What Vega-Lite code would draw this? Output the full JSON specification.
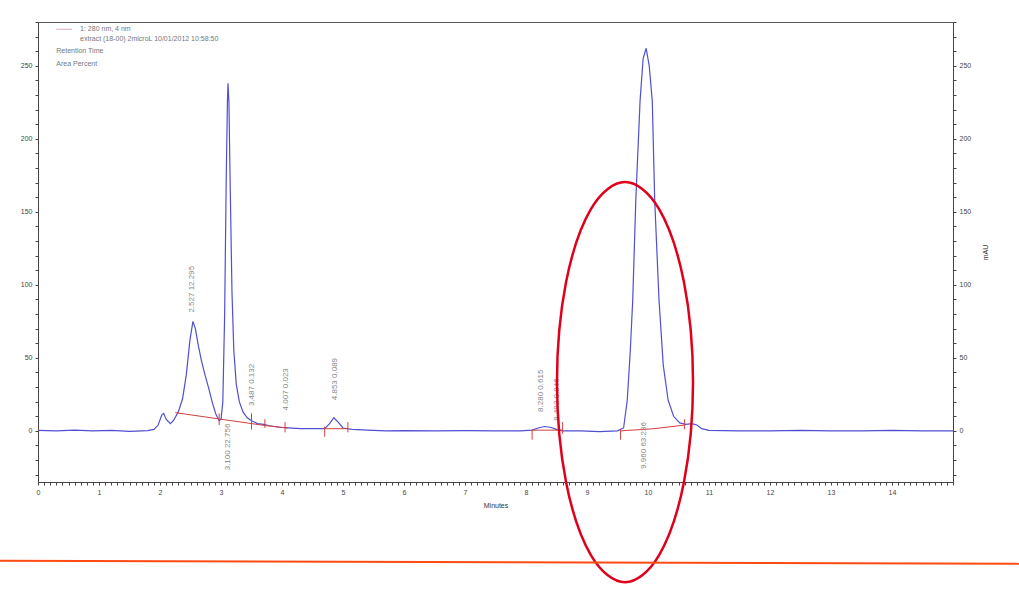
{
  "$schema": "https://vega.github.io/schema/vega-lite/v6.json",
  "width": 915,
  "height": 460,
  "autosize": {"type": "none"},
  "padding": {"left": 38, "top": 22, "right": 66, "bottom": 107},
  "background": "white",
  "config": {
    "view": {"stroke": "#555", "strokeWidth": 1},
    "font": "Liberation Sans",
    "axis": {"domainColor": "#444", "tickColor": "#444", "labelColor": "#444", "labelFontSize": 7, "titleFontSize": 7, "titleFontWeight": "normal", "titleColor": "#333", "grid": false}
  },
  "datasets": {
    "trace": [
      {"t": 0, "mAU": 0.3}, {"t": 0.3, "mAU": 0}, {"t": 0.6, "mAU": 0.5}, {"t": 0.9, "mAU": 0}, {"t": 1.2, "mAU": 0.3}, {"t": 1.5, "mAU": -0.3}, {"t": 1.8, "mAU": 0.2}, {"t": 1.9, "mAU": 1}, {"t": 1.97, "mAU": 4}, {"t": 2.03, "mAU": 11}, {"t": 2.06, "mAU": 12}, {"t": 2.1, "mAU": 8}, {"t": 2.17, "mAU": 5}, {"t": 2.22, "mAU": 7}, {"t": 2.3, "mAU": 13}, {"t": 2.37, "mAU": 22}, {"t": 2.43, "mAU": 38}, {"t": 2.49, "mAU": 62}, {"t": 2.54, "mAU": 75}, {"t": 2.58, "mAU": 70}, {"t": 2.63, "mAU": 58}, {"t": 2.68, "mAU": 48}, {"t": 2.74, "mAU": 38}, {"t": 2.8, "mAU": 29}, {"t": 2.86, "mAU": 19}, {"t": 2.92, "mAU": 11}, {"t": 2.97, "mAU": 7}, {"t": 3.0, "mAU": 8}, {"t": 3.03, "mAU": 20}, {"t": 3.06, "mAU": 80}, {"t": 3.085, "mAU": 170}, {"t": 3.105, "mAU": 225}, {"t": 3.115, "mAU": 238}, {"t": 3.13, "mAU": 225}, {"t": 3.15, "mAU": 170}, {"t": 3.18, "mAU": 95}, {"t": 3.21, "mAU": 55}, {"t": 3.25, "mAU": 32}, {"t": 3.3, "mAU": 20}, {"t": 3.36, "mAU": 13}, {"t": 3.43, "mAU": 9}, {"t": 3.5, "mAU": 7}, {"t": 3.6, "mAU": 5}, {"t": 3.7, "mAU": 4.5}, {"t": 3.8, "mAU": 3.5}, {"t": 3.95, "mAU": 2.5}, {"t": 4.1, "mAU": 2}, {"t": 4.3, "mAU": 1.5}, {"t": 4.5, "mAU": 1.5}, {"t": 4.7, "mAU": 1.5}, {"t": 4.78, "mAU": 5}, {"t": 4.85, "mAU": 9}, {"t": 4.92, "mAU": 6}, {"t": 5.0, "mAU": 2}, {"t": 5.15, "mAU": 1}, {"t": 5.4, "mAU": 0.5}, {"t": 5.7, "mAU": 0}, {"t": 6.0, "mAU": 0.2}, {"t": 6.5, "mAU": 0}, {"t": 7.0, "mAU": 0.2}, {"t": 7.5, "mAU": 0}, {"t": 7.9, "mAU": 0}, {"t": 8.1, "mAU": 0.5}, {"t": 8.2, "mAU": 2}, {"t": 8.3, "mAU": 3}, {"t": 8.4, "mAU": 2.5}, {"t": 8.5, "mAU": 1}, {"t": 8.6, "mAU": 0}, {"t": 8.9, "mAU": 0}, {"t": 9.2, "mAU": -0.5}, {"t": 9.5, "mAU": 0}, {"t": 9.6, "mAU": 2}, {"t": 9.66, "mAU": 21}, {"t": 9.71, "mAU": 55}, {"t": 9.75, "mAU": 90}, {"t": 9.8, "mAU": 158}, {"t": 9.87, "mAU": 226}, {"t": 9.92, "mAU": 255}, {"t": 9.97, "mAU": 262}, {"t": 10.02, "mAU": 250}, {"t": 10.07, "mAU": 226}, {"t": 10.11, "mAU": 158}, {"t": 10.18, "mAU": 90}, {"t": 10.25, "mAU": 45}, {"t": 10.33, "mAU": 21}, {"t": 10.42, "mAU": 10}, {"t": 10.52, "mAU": 5.5}, {"t": 10.62, "mAU": 4.5}, {"t": 10.72, "mAU": 5}, {"t": 10.8, "mAU": 4}, {"t": 10.88, "mAU": 1.5}, {"t": 11.0, "mAU": 0.3}, {"t": 11.5, "mAU": 0}, {"t": 12, "mAU": 0}, {"t": 12.5, "mAU": 0.3}, {"t": 13, "mAU": 0}, {"t": 13.5, "mAU": 0}, {"t": 14, "mAU": 0.3}, {"t": 14.5, "mAU": 0}, {"t": 15, "mAU": 0}
    ],
    "baseline": [
      {"seg": "a", "t": 2.25, "mAU": 12.5}, {"seg": "a", "t": 3.0, "mAU": 8}, {"seg": "a", "t": 3.5, "mAU": 5}, {"seg": "a", "t": 3.75, "mAU": 3.5}, {"seg": "a", "t": 4.1, "mAU": 2},
      {"seg": "b", "t": 4.7, "mAU": 1.5}, {"seg": "b", "t": 5.08, "mAU": 1.5},
      {"seg": "c", "t": 8.1, "mAU": 0.5}, {"seg": "c", "t": 8.6, "mAU": 0.5},
      {"seg": "d", "t": 9.55, "mAU": 0}, {"seg": "d", "t": 10.1, "mAU": 1.5}, {"seg": "d", "t": 10.6, "mAU": 4}
    ],
    "marks": [
      {"t": 2.97, "lo": 4, "hi": 12}, {"t": 3.5, "lo": 1, "hi": 12}, {"t": 3.72, "lo": 2, "hi": 8}, {"t": 4.05, "lo": -1, "hi": 6}, {"t": 4.7, "lo": -4, "hi": 3}, {"t": 5.08, "lo": -1, "hi": 6}, {"t": 8.1, "lo": -6, "hi": 1}, {"t": 8.6, "lo": -2, "hi": 6}, {"t": 9.55, "lo": -6, "hi": 1}, {"t": 10.6, "lo": 1, "hi": 8}
    ],
    "labels": [
      {"t": 2.527, "y": 81, "text": "2.527  12.295"},
      {"t": 3.115, "y": -27, "text": "3.100  22.756"},
      {"t": 3.51, "y": 17, "text": "3.487  0.132"},
      {"t": 4.06, "y": 14, "text": "4.007  0.023"},
      {"t": 4.87, "y": 21, "text": "4.853  0.089"},
      {"t": 8.25, "y": 13, "text": "8.280  0.615"},
      {"t": 8.5, "y": 7, "text": "8.493  0.846"},
      {"t": 9.93, "y": -26, "text": "9.960  63.236"}
    ],
    "legend": [
      {"t": 0.69, "y": 275.5, "text": "1: 280 nm, 4 nm"},
      {"t": 0.69, "y": 268.5, "text": "extract (18-00) 2microL 10/01/2012 10:58:50"},
      {"t": 0.3, "y": 260, "text": "Retention Time"},
      {"t": 0.3, "y": 251, "text": "Area Percent"}
    ],
    "ellipse": [
      {"k": 0, "t": 10.738, "y": 33.4}, {"k": 1, "t": 10.589, "y": 101.9}, {"k": 2, "t": 10.18, "y": 152.0}, {"k": 3, "t": 9.623, "y": 170.4}, {"k": 4, "t": 9.066, "y": 152.0}, {"k": 5, "t": 8.657, "y": 101.9}, {"k": 6, "t": 8.508, "y": 33.4}, {"k": 7, "t": 8.657, "y": -35.1}, {"k": 8, "t": 9.066, "y": -85.2}, {"k": 9, "t": 9.623, "y": -103.6}, {"k": 10, "t": 10.18, "y": -85.2}, {"k": 11, "t": 10.589, "y": -35.1}
    ]
  },
  "encoding": {
    "x": {"field": "t", "type": "quantitative", "scale": {"domain": [0, 15], "nice": false, "zero": false},
      "axis": {"title": "Minutes", "tickSize": 3, "labelOverlap": false, "labelFlush": false, "labelPadding": 3, "titlePadding": 6,
        "values": [0,0.1,0.2,0.3,0.4,0.5,0.6,0.7,0.8,0.9,1,1.1,1.2,1.3,1.4,1.5,1.6,1.7,1.8,1.9,2,2.1,2.2,2.3,2.4,2.5,2.6,2.7,2.8,2.9,3,3.1,3.2,3.3,3.4,3.5,3.6,3.7,3.8,3.9,4,4.1,4.2,4.3,4.4,4.5,4.6,4.7,4.8,4.9,5,5.1,5.2,5.3,5.4,5.5,5.6,5.7,5.8,5.9,6,6.1,6.2,6.3,6.4,6.5,6.6,6.7,6.8,6.9,7,7.1,7.2,7.3,7.4,7.5,7.6,7.7,7.8,7.9,8,8.1,8.2,8.3,8.4,8.5,8.6,8.7,8.8,8.9,9,9.1,9.2,9.3,9.4,9.5,9.6,9.7,9.8,9.9,10,10.1,10.2,10.3,10.4,10.5,10.6,10.7,10.8,10.9,11,11.1,11.2,11.3,11.4,11.5,11.6,11.7,11.8,11.9,12,12.1,12.2,12.3,12.4,12.5,12.6,12.7,12.8,12.9,13,13.1,13.2,13.3,13.4,13.5,13.6,13.7,13.8,13.9,14,14.1,14.2,14.3,14.4,14.5,14.6,14.7,14.8,14.9,15],
        "labelExpr": "(abs(datum.value - round(datum.value)) < 0.001 && datum.value < 14.5) ? format(datum.value, 'd') : ''"}}
  },
  "layer": [
    {
      "data": {"name": "trace"},
      "mark": {"type": "line", "color": "#4f4fd2", "strokeWidth": 1.2},
      "encoding": {
        "y": {"field": "mAU", "type": "quantitative", "scale": {"domain": [-35, 280], "nice": false, "zero": false},
          "axis": {"title": null, "tickCount": 31, "tickSize": 3, "labelExpr": "(datum.value % 50 == 0 && datum.value >= 0) ? format(datum.value, 'd') : ''", "labelOverlap": false, "labelPadding": 3}}
      }
    },
    {
      "data": {"name": "baseline"},
      "mark": {"type": "line", "color": "#d04040", "strokeWidth": 1},
      "encoding": {
        "y": {"field": "mAU", "type": "quantitative", "scale": {"domain": [-35, 280], "nice": false, "zero": false},
          "axis": {"orient": "right", "title": "mAU", "titleAngle": 270, "titlePadding": 18, "tickCount": 31, "tickSize": 3, "labelExpr": "(datum.value % 50 == 0 && datum.value >= 0) ? format(datum.value, 'd') : ''", "labelOverlap": false, "labelPadding": 3}},
        "detail": {"field": "seg"}
      }
    },
    {
      "data": {"name": "marks"},
      "mark": {"type": "rule", "color": "#d04040", "strokeWidth": 1},
      "encoding": {
        "y": {"field": "lo", "type": "quantitative", "scale": {"domain": [-35, 280], "nice": false, "zero": false}, "axis": null},
        "y2": {"field": "hi"}
      }
    },
    {
      "data": {"name": "labels"},
      "mark": {"type": "text", "angle": 270, "align": "left", "baseline": "middle", "fontSize": 8, "color": "#888"},
      "encoding": {
        "y": {"field": "y", "type": "quantitative", "scale": {"domain": [-35, 280], "nice": false, "zero": false}, "axis": null},
        "text": {"field": "text"}
      }
    },
    {
      "data": {"name": "legend"},
      "mark": {"type": "text", "align": "left", "baseline": "middle", "fontSize": 7, "color": "#777"},
      "encoding": {
        "y": {"field": "y", "type": "quantitative", "scale": {"domain": [-35, 280], "nice": false, "zero": false}, "axis": null},
        "text": {"field": "text"}
      }
    },
    {
      "data": {"values": [{"t": 0.3, "t2": 0.56, "y": 275}]},
      "mark": {"type": "rule", "color": "#d8b0b0", "strokeWidth": 1},
      "encoding": {
        "x2": {"field": "t2"},
        "y": {"field": "y", "type": "quantitative", "scale": {"domain": [-35, 280], "nice": false, "zero": false}, "axis": null}
      }
    },
    {
      "data": {"name": "ellipse"},
      "mark": {"type": "line", "color": "#e0001b", "strokeWidth": 2.5, "interpolate": "cardinal-closed", "clip": false},
      "encoding": {
        "y": {"field": "y", "type": "quantitative", "scale": {"domain": [-35, 280], "nice": false, "zero": false}, "axis": null},
        "order": {"field": "k", "type": "quantitative"}
      }
    },
    {
      "data": {"values": [{"t": -0.63, "t2": 16.1, "y": -89, "y2": -91}]},
      "mark": {"type": "rule", "color": "#ff4a14", "strokeWidth": 2, "clip": false},
      "encoding": {
        "x2": {"field": "t2"},
        "y": {"field": "y", "type": "quantitative", "scale": {"domain": [-35, 280], "nice": false, "zero": false}, "axis": null},
        "y2": {"field": "y2"}
      }
    }
  ],
  "resolve": {"axis": {"y": "independent"}}
}
